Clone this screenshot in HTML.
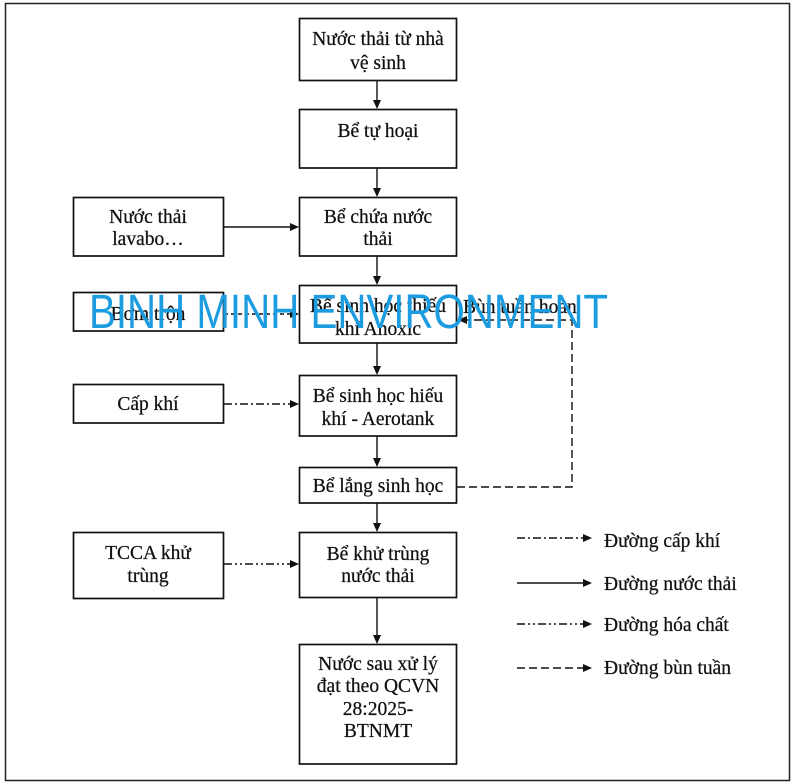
<!DOCTYPE html>
<html><head><meta charset="utf-8"><style>
html,body{margin:0;padding:0;background:#fff;}
svg{display:block;}
text{font-family:"Liberation Serif","Times New Roman",serif;font-size:19.5px;fill:#111;stroke:#111;stroke-width:0.25;}
</style></head><body>
<svg width="793" height="782" viewBox="0 0 793 782" xmlns="http://www.w3.org/2000/svg">
<rect x="0" y="0" width="793" height="782" fill="#fff"/>
<rect x="5.5" y="3.5" width="784" height="777" fill="none" stroke="#222" stroke-width="1.5"/>
<g fill="#fff" stroke="#111" stroke-width="1.7">
<rect x="299.5" y="18.5" width="157" height="62"/>
<rect x="299.5" y="109.5" width="157" height="58.5"/>
<rect x="299.5" y="197.5" width="157" height="58.5"/>
<rect x="73.5" y="197.5" width="150" height="58.5"/>
<rect x="299.5" y="285.5" width="157" height="57.5"/>
<rect x="73.5" y="292.5" width="150" height="38.5"/>
<rect x="299.5" y="375.5" width="157" height="60.5"/>
<rect x="73.5" y="384.5" width="150" height="38.5"/>
<rect x="299.5" y="467.5" width="157" height="35.5"/>
<rect x="299.5" y="532.5" width="157" height="65"/>
<rect x="73.5" y="532.5" width="150" height="66"/>
<rect x="299.5" y="644.5" width="157" height="119.5"/>
</g>
<g stroke="#111" stroke-width="1.4" fill="none">
<line x1="377" y1="81" x2="377" y2="101"/>
<line x1="377" y1="168" x2="377" y2="189"/>
<line x1="377" y1="256" x2="377" y2="277"/>
<line x1="377" y1="343" x2="377" y2="367"/>
<line x1="377" y1="436" x2="377" y2="459"/>
<line x1="377" y1="503" x2="377" y2="524"/>
<line x1="377" y1="598" x2="377" y2="636"/>
<line x1="224" y1="227" x2="291" y2="227"/>
<line x1="224" y1="314" x2="291" y2="314" stroke-dasharray="4,3"/>
<line x1="224" y1="404" x2="291" y2="404" stroke-dasharray="8,3,2,3"/>
<line x1="224" y1="564" x2="291" y2="564" stroke-dasharray="8,3,2,3,2,3"/>
<polyline points="457,487 572,487 572,320 466,320" stroke-dasharray="8,4"/>
<line x1="517" y1="538" x2="584" y2="538" stroke-dasharray="8,3,2,3"/>
<line x1="517" y1="583" x2="584" y2="583"/>
<line x1="517" y1="624" x2="584" y2="624" stroke-dasharray="8,3,2,3,2,3"/>
<line x1="517" y1="668" x2="584" y2="668" stroke-dasharray="8,4"/>
</g>
<g fill="#111">
<polygon points="373,100 381,100 377,109"/>
<polygon points="373,188 381,188 377,197"/>
<polygon points="373,276 381,276 377,285"/>
<polygon points="373,366 381,366 377,375"/>
<polygon points="373,458 381,458 377,467"/>
<polygon points="373,523 381,523 377,532"/>
<polygon points="373,635 381,635 377,644"/>
<polygon points="290,223 290,231 299,227"/>
<polygon points="290,310 290,318 299,314"/>
<polygon points="290,400 290,408 299,404"/>
<polygon points="290,560 290,568 299,564"/>
<polygon points="467,316 467,324 458,320"/>
<polygon points="583,534 583,542 592,538"/>
<polygon points="583,579 583,587 592,583"/>
<polygon points="583,620 583,628 592,624"/>
<polygon points="583,664 583,672 592,668"/>
</g>
<g text-anchor="middle">
<text x="378" y="45">Nước thải từ nhà</text>
<text x="378" y="69">vệ sinh</text>
<text x="378" y="137">Bể tự hoại</text>
<text x="378" y="223">Bể chứa nước</text>
<text x="378" y="245">thải</text>
<text x="148" y="223">Nước thải</text>
<text x="148" y="245">lavabo…</text>
<text x="378" y="312">Bể sinh học thiếu</text>
<text x="378" y="335">khí Anoxic</text>
<text x="148" y="320">Bơm trộn</text>
<text x="378" y="402">Bể sinh học hiếu</text>
<text x="378" y="425">khí - Aerotank</text>
<text x="148" y="410">Cấp khí</text>
<text x="378" y="492">Bể lắng sinh học</text>
<text x="378" y="560">Bể khử trùng</text>
<text x="378" y="582">nước thải</text>
<text x="148" y="559">TCCA khử</text>
<text x="148" y="582">trùng</text>
<text x="378" y="670">Nước sau xử lý</text>
<text x="378" y="692">đạt theo QCVN</text>
<text x="378" y="715">28:2025-</text>
<text x="378" y="737">BTNMT</text>
</g>
<text x="463" y="313">Bùn tuần hoàn</text>
<text x="604" y="547">Đường cấp khí</text>
<text x="604" y="590">Đường nước thải</text>
<text x="604" y="631">Đường hóa chất</text>
<text x="604" y="674">Đường bùn tuần</text>
<text x="89" y="328" textLength="519" lengthAdjust="spacingAndGlyphs" style="font-family:'Liberation Sans',Arial,sans-serif;font-size:48px;fill:#1b9be0;stroke:none;">BINH MINH ENVIRONMENT</text>
</svg>
</body></html>
